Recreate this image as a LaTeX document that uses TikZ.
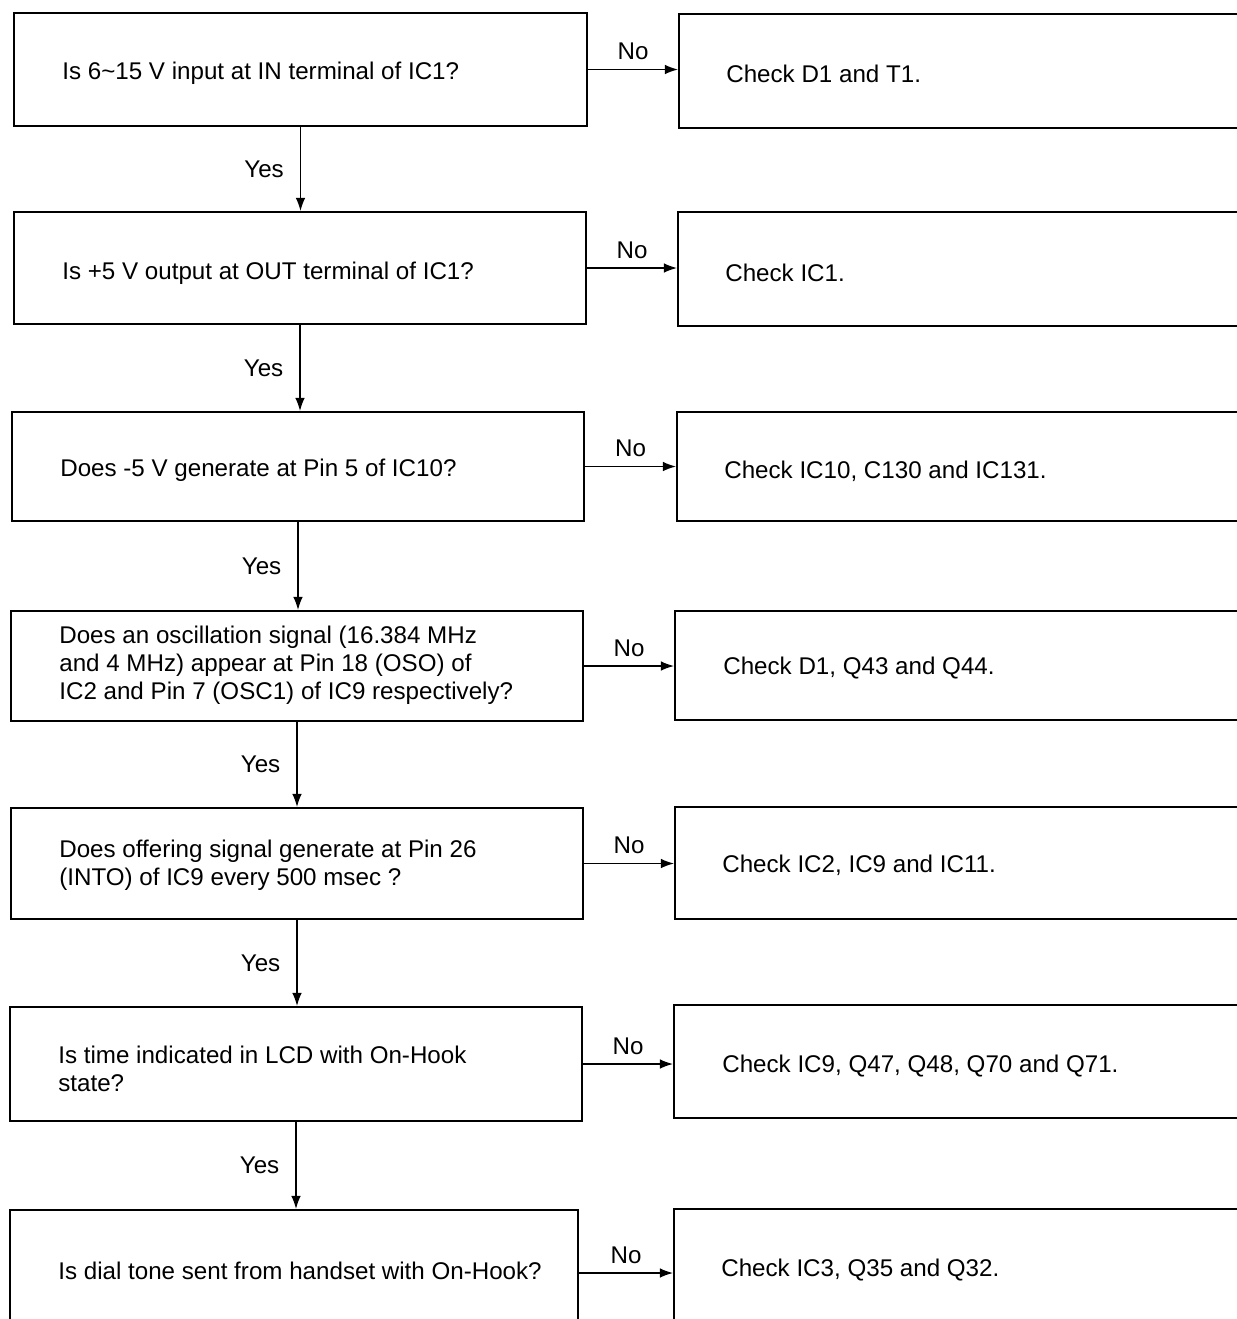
\documentclass[tikz,border=0pt]{standalone}
\usepackage{fontspec}
\setmainfont{Liberation Sans}
\usetikzlibrary{arrows.meta}
\newlength\pxu
\setlength\pxu{0.02cm}
\begin{document}
\begin{tikzpicture}[x=0.02cm,y=-0.02cm,
  box/.style={draw, line width=1.1pt, rectangle, inner sep=0pt},
  txt/.style={anchor=west, inner sep=0pt, align=left, font=\fontsize{13.75}{15.9}\selectfont},
  lbl/.style={inner sep=0pt, font=\fontsize{13.75}{15.9}\selectfont},
  arr/.style={line width=0.85pt, -{Latex[length=7.5pt,width=5.5pt]}}
]
\clip (0,0) rectangle (1237,1319);
\fill[white] (0,0) rectangle (1237,1319);
% left boxes
\node[box, minimum width=573\pxu, minimum height=113\pxu] (L1) at (300.5,69.5) {};
\node[box, minimum width=572\pxu, minimum height=112\pxu] (L2) at (300,268) {};
\node[box, minimum width=572\pxu, minimum height=109\pxu] (L3) at (298,466.5) {};
\node[box, minimum width=572\pxu, minimum height=110\pxu] (L4) at (297,666) {};
\node[box, minimum width=572\pxu, minimum height=111\pxu] (L5) at (297,863.5) {};
\node[box, minimum width=572\pxu, minimum height=114\pxu] (L6) at (296,1064) {};
\node[box, minimum width=568\pxu, minimum height=126\pxu] (L7) at (294,1273) {};
% right boxes
\node[box, minimum width=581\pxu, minimum height=114\pxu] (R1) at (969.5,71) {};
\node[box, minimum width=582\pxu, minimum height=114\pxu] (R2) at (969,269) {};
\node[box, minimum width=583\pxu, minimum height=109\pxu] (R3) at (968.5,466.5) {};
\node[box, minimum width=585\pxu, minimum height=109\pxu] (R4) at (967.5,665.5) {};
\node[box, minimum width=585\pxu, minimum height=112\pxu] (R5) at (967.5,863) {};
\node[box, minimum width=586\pxu, minimum height=113\pxu] (R6) at (967,1061.5) {};
\node[box, minimum width=586\pxu, minimum height=128\pxu] (R7) at (967,1273) {};
% left texts
\node[txt] (T1) at (62,73) {Is 6\textasciitilde 15 V input at IN terminal of IC1?};
\node[txt] (T2) at (62,273) {Is +5 V output at OUT terminal of IC1?};
\node[txt] (T3) at (60,470) {Does -5 V generate at Pin 5 of IC10?};
\node[txt] (T4) at (59,665) {Does an oscillation signal (16.384 MHz\\and 4 MHz) appear at Pin 18 (OSO) of\\IC2 and Pin 7 (OSC1) of IC9 respectively?};
\node[txt] (T5) at (59,865) {Does offering signal generate at Pin 26\\(INTO) of IC9 every 500 msec ?};
\node[txt] (T6) at (58,1069) {Is time indicated in LCD with On-Hook\\state?};
\node[txt] (T7) at (58,1271) {Is dial tone sent from handset with On-Hook?};
% right texts
\node[txt] (C1) at (726,74) {Check D1 and T1.};
\node[txt] (C2) at (725,273) {Check IC1.};
\node[txt] (C3) at (724,471) {Check IC10, C130 and IC131.};
\node[txt] (C4) at (723,668) {Check D1, Q43 and Q44.};
\node[txt] (C5) at (722,865) {Check IC2, IC9 and IC11.};
\node[txt] (C6) at (722,1066) {Check IC9, Q47, Q48, Q70 and Q71.};
\node[txt] (C7) at (721,1270) {Check IC3, Q35 and Q32.};
% No arrows
\foreach \i in {1,...,7}{
  \draw[arr] (L\i.east) -- (L\i.east -| R\i.west)
    node[lbl, midway, above=9\pxu] {No};
}
% Yes arrows
\foreach \i/\j in {1/2,2/3,3/4,4/5,5/6,6/7}{
  \draw[arr] (L\i.south) -- (L\i.south |- L\j.north)
    node[lbl, midway, left=16\pxu] {Yes};
}
\end{tikzpicture}
\end{document}
